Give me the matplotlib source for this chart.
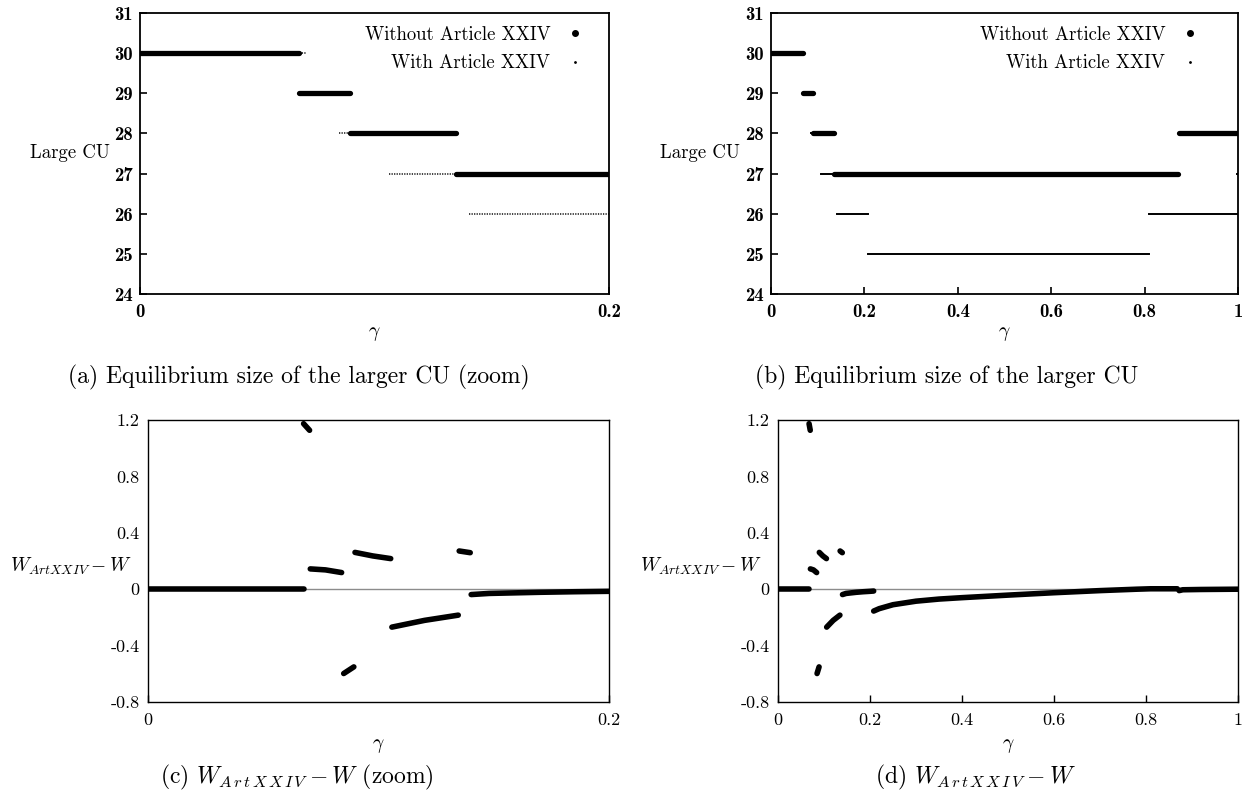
import matplotlib
matplotlib.use('Agg')
import matplotlib.pyplot as plt
from matplotlib.lines import Line2D

plt.rcParams['font.family'] = 'cmr10'
plt.rcParams['mathtext.fontset'] = 'cm'
plt.rcParams['axes.unicode_minus'] = False
plt.rcParams['axes.formatter.use_mathtext'] = True

# ---------------- data ----------------
# Panel (a): equilibrium size of the larger CU, gamma in [0, 0.2]
a_without_start = [0.0, 0.0676, 0.0897, 0.1347]
a_without_end = [0.0676, 0.0897, 0.1349, 0.2]
a_without_level = [30, 29, 28, 27]
a_with_start = [0.0, 0.0707, 0.0850, 0.1062, 0.1403]
a_with_end = [0.0707, 0.0850, 0.1062, 0.1403, 0.2]
a_with_level = [30, 29, 28, 27, 26]

# Panel (b): gamma in [0, 1]
b_without_start = [0.0, 0.0676, 0.0897, 0.1347, 0.873]
b_without_end = [0.0676, 0.0897, 0.1347, 0.871, 1.0]
b_without_level = [30, 29, 28, 27, 28]
b_with_start = [0.0, 0.0707, 0.0850, 0.1062, 0.1403, 0.208, 0.810, 0.998]
b_with_end = [0.0707, 0.0850, 0.1062, 0.1403, 0.208, 0.810, 1.0, 1.0]
b_with_level = [30, 29, 28, 27, 26, 25, 26, 27]

top_yticks = [24, 25, 26, 27, 28, 29, 30, 31]
a_xticks = [0, 0.2]
a_xticklabels = ['0', '0.2']
b_xticks = [0, 0.2, 0.4, 0.6, 0.8, 1.0]
b_xticklabels = ['0', '0.2', '0.4', '0.6', '0.8', '1']

# Panels (c)/(d): W_ArtXXIV - W, segments of the welfare difference
w_seg_x = [
    [0.0, 0.0675],
    [0.0675, 0.0701],
    [0.0704, 0.0770, 0.0840],
    [0.0849, 0.0893],
    [0.0898, 0.0975, 0.1053],
    [0.1058, 0.1200, 0.1346],
    [0.1350, 0.1398],
    [0.1402, 0.1480, 0.1700, 0.1850, 0.2000, 0.2080],
    [0.208, 0.220, 0.250, 0.300, 0.350, 0.400, 0.500, 0.600, 0.700, 0.780, 0.810, 0.868],
    [0.872, 0.880, 0.920, 1.000],
]
w_seg_y = [
    [0.0, 0.0],
    [1.174, 1.127],
    [0.144, 0.137, 0.118],
    [-0.598, -0.551],
    [0.261, 0.236, 0.217],
    [-0.269, -0.221, -0.184],
    [0.271, 0.259],
    [-0.038, -0.030, -0.022, -0.018, -0.015, -0.013],
    [-0.155, -0.138, -0.110, -0.085, -0.070, -0.060, -0.042, -0.025, -0.010, 0.000, 0.003, 0.003],
    [-0.010, -0.004, -0.002, 0.000],
]
bottom_yticks = [-0.8, -0.4, 0.0, 0.4, 0.8, 1.2]
bottom_yticklabels = ['-0.8', '-0.4', '0', '0.4', '0.8', '1.2']

legend_labels = ['Without Article XXIV', 'With Article XXIV']
captions = ['(a) Equilibrium size of the larger CU (zoom)',
            '(b) Equilibrium size of the larger CU',
            r'(c) $W_{A\,r\,t\,X\,X\,I\,V} - W$ (zoom)',
            r'(d) $W_{A\,r\,t\,X\,X\,I\,V} - W$']

# ---------------- figure ----------------
W, H = 1258, 798
fig = plt.figure(figsize=(W / 100, H / 100), dpi=100)


def rect(l, t, r, b):
    return [l / W, 1 - b / H, (r - l) / W, (b - t) / H]


ax_a = fig.add_axes(rect(140, 13, 609, 294))
ax_b = fig.add_axes(rect(771, 13, 1238, 294))
ax_c = fig.add_axes(rect(148, 420, 609, 702))
ax_d = fig.add_axes(rect(778, 420, 1238, 702))

BIG_LW = 3.8
TICK_FS = 13.5


def draw_levels(ax, starts, ends, levels, **kw):
    for s, e, l in zip(starts, ends, levels):
        ax.plot([s, e], [l, l], **kw)


def style_top(ax, xmax, xticks, xticklabels, legend_anchor):
    ax.set_xlim(0, xmax)
    ax.set_ylim(24, 31)
    ax.set_yticks(top_yticks)
    ax.set_yticklabels([str(v) for v in top_yticks], fontsize=TICK_FS, family='cmb10')
    ax.set_xticks(xticks)
    ax.set_xticklabels(xticklabels, fontsize=TICK_FS, family='cmb10')
    ax.tick_params(axis='y', direction='in', length=5, width=1.2, pad=5)
    ax.tick_params(axis='x', direction='in', length=5, width=1.2, pad=6.5)
    for sp in ax.spines.values():
        sp.set_linewidth(1.3)
    ax.set_ylabel('Large CU', rotation=0, fontsize=13.5, ha='right', va='center')
    ax.yaxis.set_label_coords(-0.064, 0.5)
    ax.set_xlabel(r'$\gamma$', fontsize=14, labelpad=3)
    handles = [Line2D([], [], ls='none', marker='o', ms=4, color='k'),
               Line2D([], [], ls='none', marker='.', ms=2, color='k')]
    ax.legend(handles, legend_labels, loc='upper right', frameon=False,
              markerfirst=False, fontsize=13.5, handlelength=1.0,
              handletextpad=0.8, borderaxespad=0.3, labelspacing=0.55,
              bbox_to_anchor=legend_anchor)


# (a)
draw_levels(ax_a, a_with_start, a_with_end, a_with_level, color='#333333', lw=1.3,
            ls=(0, (0.7, 0.7)))
draw_levels(ax_a, a_without_start, a_without_end, a_without_level, color='k',
            lw=BIG_LW, solid_capstyle='round')
style_top(ax_a, 0.2, a_xticks, a_xticklabels, (0.975, 1.0))

# (b)
draw_levels(ax_b, b_with_start, b_with_end, b_with_level, color='k', lw=1.4)
draw_levels(ax_b, b_without_start, b_without_end, b_without_level, color='k',
            lw=BIG_LW, solid_capstyle='round')
style_top(ax_b, 1.0, b_xticks, b_xticklabels, (0.945, 1.0))
ax_b.yaxis.set_label_coords(-0.066, 0.5)


def style_bottom(ax, xmax, xticks, xticklabels):
    ax.axhline(0, color='#8c8c8c', lw=1.0, zorder=1)
    ax.set_xlim(0, xmax)
    ax.set_ylim(-0.8, 1.2)
    ax.set_yticks(bottom_yticks)
    ax.set_yticklabels(bottom_yticklabels, fontsize=13)
    ax.set_xticks(xticks)
    ax.set_xticklabels(xticklabels, fontsize=13)
    ax.tick_params(axis='x', direction='in', length=5, width=1.0, pad=8)
    ax.tick_params(axis='y', length=0, pad=6)
    for sp in ax.spines.values():
        sp.set_linewidth(1.0)
    ax.set_ylabel(r'$W_{ArtXXIV} - W$', rotation=0, fontsize=14, ha='right', va='center')
    ax.yaxis.set_label_coords(-0.035, 0.48)
    ax.set_xlabel(r'$\gamma$', fontsize=14, labelpad=6)


for ax, xmax in [(ax_c, 0.2), (ax_d, 1.0)]:
    for xs, ys in zip(w_seg_x, w_seg_y):
        ax.plot(xs, ys, color='k', lw=4.0, solid_capstyle='round',
                solid_joinstyle='round', zorder=3, clip_on=True)
style_bottom(ax_c, 0.2, a_xticks, a_xticklabels)
style_bottom(ax_d, 1.0, b_xticks, b_xticklabels)

CAP_FS = 17
fig.text(299 / W, 1 - 377 / H, captions[0], ha='center', va='center', fontsize=CAP_FS)
fig.text(947 / W, 1 - 377 / H, captions[1], ha='center', va='center', fontsize=CAP_FS)
fig.text(297 / W, 1 - 777 / H, captions[2], ha='center', va='center', fontsize=CAP_FS)
fig.text(976 / W, 1 - 777 / H, captions[3], ha='center', va='center', fontsize=CAP_FS)

fig.savefig('out.png', dpi=100)
